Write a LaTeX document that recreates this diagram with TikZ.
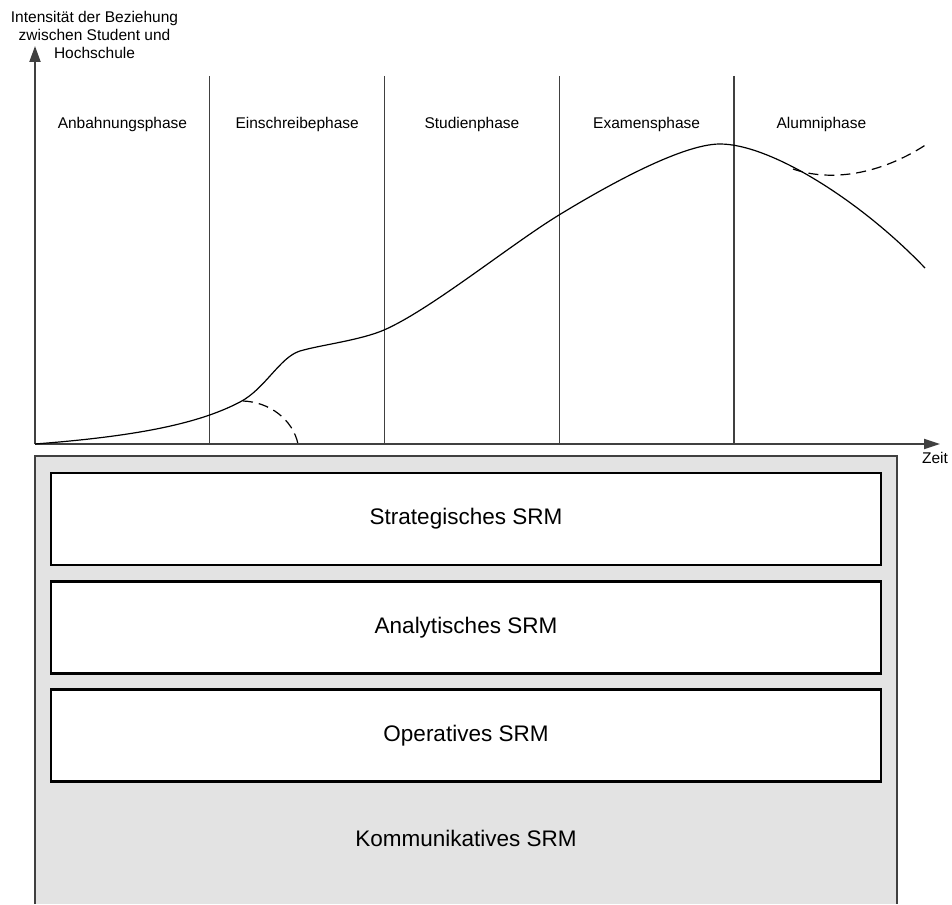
\documentclass[tikz,border=0pt]{standalone}
\usepackage{fontspec}
\setmainfont{Liberation Sans}
\usetikzlibrary{arrows.meta}

\definecolor{grauhg}{RGB}{227,227,227}
\definecolor{grauli}{RGB}{64,64,64}

\begin{document}
\begin{tikzpicture}[
  x=1pt, y=-1pt,
  achse/.style={draw=grauli, line width=2pt},
  phase/.style={draw=grauli, line width=1.4pt},
  kurve/.style={draw=black, line width=1.2pt},
  zweig/.style={draw=black, line width=1.2pt, dash pattern=on 10pt off 6pt},
  ebene/.style={draw=black, line width=2.2pt, fill=white, inner sep=0pt,
                minimum width=830pt, minimum height=92pt,
                font=\fontsize{22.5}{26}\selectfont},
  klein/.style={font=\fontsize{15.5}{18}\selectfont}
]
\useasboundingbox (0,0) rectangle (952,904);

%--------------------------------------------------------------
% SRM-Ebenen (grauer Kasten mit drei weissen Ebenen)
%--------------------------------------------------------------
\fill[grauhg] (35,456) rectangle (897,904);
\draw[draw=grauli, line width=1.8pt] (35,904) -- (35,456) -- (897,456) -- (897,904);

\foreach \name/\yc/\txt in {strat/519/Strategisches SRM,
                            analyt/627.5/Analytisches SRM,
                            operat/735.5/Operatives SRM}
  \node[ebene] (\name) at (466,\yc) {\txt};

\node[font=\fontsize{22.5}{26}\selectfont] (komm) at (466,838) {Kommunikatives SRM};

%--------------------------------------------------------------
% Achsen und Beschriftungen
%--------------------------------------------------------------
\coordinate (ursprung) at (35,444);
\coordinate (yspitze) at (35,46);
\coordinate (xspitze) at (940,444);

\foreach \i in {1,...,4}
  \draw[phase] ({35+174.75*\i},76) -- ({35+174.75*\i},444);

\draw[achse, -{Triangle[length=16pt,width=11pt]}] (ursprung) -- (yspitze);
\draw[achse, -{Triangle[length=16pt,width=10pt]}] (ursprung) -- (xspitze);

\node[klein, align=center] (ytitel) at (94.5,35)
  {Intensität der Beziehung\\zwischen Student und\\Hochschule};
\node[klein] (zeit) at (935,458) {Zeit};

\foreach \i/\lab in {0/Anbahnungsphase, 1/Einschreibephase, 2/Studienphase,
                     3/Examensphase, 4/Alumniphase}
  \node[klein] (phase\i) at ({122.4+174.75*\i},124) {\lab};

%--------------------------------------------------------------
% Verlauf der Beziehung
%--------------------------------------------------------------
\draw[kurve] (ursprung)
  .. controls (140,436) and (200,423) .. (240,402)
  .. controls (265,389) and (280,357) .. (300,351)
  .. controls (320,345) and (360,340.4) .. (384,330)
  .. controls (430,310) and (510,245) .. (559,215)
  .. controls (600,190) and (680,144) .. (720,144)
  .. controls (770,144) and (860,200) .. (925,268);

% Abbruch in der Einschreibephase
\draw[zweig] (243,401) .. controls (270,402) and (293,420) .. (298,444);

% Rueckgewinnung als Alumni
\draw[zweig] (793,169) .. controls (830,182) and (880,175) .. (927,144);

\end{tikzpicture}
\end{document}
